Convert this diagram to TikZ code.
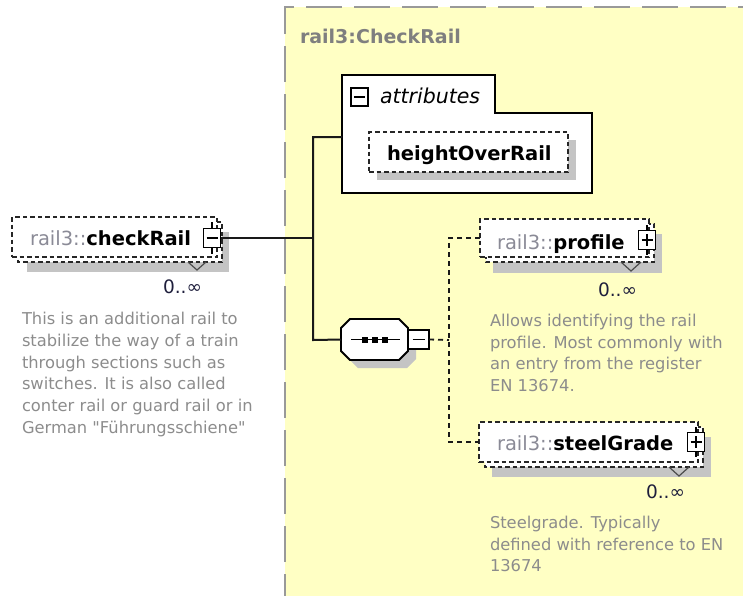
\documentclass[tikz,border=0pt]{standalone}
\usepackage{fontspec}
\setmainfont{DejaVu Sans}
\newfontfamily\descfont{DejaVu Sans}
\usetikzlibrary{calc}
\definecolor{yellowbg}{HTML}{FFFFC4}
\definecolor{framegray}{HTML}{999999}
\definecolor{shadowgray}{HTML}{C4C4C4}
\definecolor{descgray}{HTML}{8C8C8C}
\definecolor{prefixgray}{HTML}{8A8A96}
\definecolor{titlegray}{HTML}{7F7F7F}
\definecolor{occcolor}{HTML}{1E1E3C}
\begin{document}
\begin{tikzpicture}[x=1pt,y=-1pt,
  every node/.style={inner sep=0pt, outer sep=0pt},
  elemline/.style={draw=black!85, line width=1.6pt, dash pattern=on 4.5pt off 3pt},
  frontbox/.style={elemline, fill=white, anchor=north west},
  shadowfill/.style={fill=shadowgray},
  pmbox/.style={draw=black, line width=1.5pt, fill=white, minimum width=17pt, minimum height=19pt},
  pmline/.style={draw=black, line width=1.5pt},
  nametext/.style={font=\fontsize{19.5}{22}\selectfont, anchor=base west},
  desc/.style={font=\descfont\fontsize{16.3}{21.7}\selectfont, text=descgray, align=left, anchor=north west},
  occ/.style={font=\fontsize{18.5}{20}\selectfont, text=occcolor, anchor=base east},
  conn/.style={draw=black!90, line width=2pt},
  dconn/.style={draw=black!90, line width=1.8pt, dash pattern=on 5pt off 4pt},
  vmark/.style={draw=black!70, line width=1.2pt},
]
\useasboundingbox (0,0) rectangle (743,595);
% yellow complex type area
\fill[yellowbg] (285,7) rectangle (760,610);
\draw[framegray, line width=2pt, dash pattern=on 36pt off 12pt] (285,610) -- (285,7) -- (760,7);
\node[font=\bfseries\fontsize{19}{22}\selectfont, text=titlegray, anchor=base west] (title) at (300,43) {rail3:CheckRail};

% ---------- checkRail ----------
\fill[shadowfill] (27,232) rectangle (229,272);
\draw[elemline, fill=white] (18,222) rectangle (222,262);
\node[frontbox, minimum width=205pt, minimum height=40pt] (crbox) at (12,217) {};
\node[nametext] (crname) at (30,245) {\textcolor{prefixgray}{rail3::}\textbf{checkRail}};
\draw[pmline] (212,222) -- (212,254);
\node[pmbox] (crm) at (212,238) {};
\draw[pmline] ($(crm.center)+(-5.5,0)$) -- ($(crm.center)+(5.5,0)$);
\draw[vmark] (188,262) -- (197,270) -- (206,262);
\node[occ] (crocc) at (202,293) {0..∞};
\node[desc] (crdesc) at (22,312.5) {This is an additional rail to\\stabilize the way of a train\\through sections such as\\switches. It is also called\\conter rail or guard rail or in\\German "Führungsschiene"};

% ---------- attributes ----------
\draw[draw=black, line width=2pt, fill=white] (342,75) -- (495,75) -- (495,113) -- (592,113) -- (592,193) -- (342,193) -- cycle;
\coordinate (attrin) at (342,137);
\node[pmbox, minimum width=17pt, minimum height=18pt] (attrm) at (359.5,97) {};
\draw[pmline] ($(attrm.center)+(-5.5,0)$) -- ($(attrm.center)+(5.5,0)$);
\node[font=\itshape\fontsize{20.5}{22}\selectfont, anchor=base west] (attrlbl) at (380,103) {attributes};
\fill[shadowfill] (377,140) rectangle (576,180);
\node[frontbox, minimum width=199pt, minimum height=40pt] (hor) at (369,132) {};
\node[nametext, font=\bfseries\fontsize{19.5}{22}\selectfont] (horname) at (387,160) {heightOverRail};

% ---------- sequence compositor ----------
\node[minimum width=67pt, minimum height=41pt] (seq) at (374.5,339.5) {};
\fill[shadowfill] ($(seq.north west)+(17,8)$) -- ($(seq.north east)+(-1,8)$) -- ($(seq.north east)+(8,17)$) -- ($(seq.south east)+(8,-1)$) -- ($(seq.south east)+(-1,8)$) -- ($(seq.south west)+(17,8)$) -- ($(seq.south west)+(8,-1)$) -- ($(seq.north west)+(8,17)$) -- cycle;
\draw[draw=black, line width=1.8pt, fill=white] ($(seq.north west)+(9,0)$) -- ($(seq.north east)+(-9,0)$) -- ($(seq.north east)+(0,9)$) -- ($(seq.south east)+(0,-9)$) -- ($(seq.south east)+(-9,0)$) -- ($(seq.south west)+(9,0)$) -- ($(seq.south west)+(0,-9)$) -- ($(seq.north west)+(0,9)$) -- cycle;
\draw[line width=1.8pt] ($(seq.west)+(10,0)$) -- ($(seq.east)+(-8,0)$);
\foreach \dx in {-9.5,0.5,10.5} \fill ($(seq.center)+(\dx-3,-3)$) rectangle ($(seq.center)+(\dx+3,3)$);
\node[pmbox, minimum width=21pt, minimum height=19pt, anchor=west] (seqm) at (seq.east) {};
\draw[pmline] ($(seqm.center)+(-6,0)$) -- ($(seqm.center)+(6,0)$);

% ---------- profile ----------
\fill[shadowfill] (493,234) rectangle (662,273);
\draw[elemline, fill=white] (486,224) rectangle (654,262);
\node[frontbox, minimum width=169pt, minimum height=38pt] (profbox) at (480,219) {};
\node[nametext] (profname) at (497,249) {\textcolor{prefixgray}{rail3::}\textbf{profile}};
\draw[pmline] (647,225) -- (647,255);
\node[pmbox] (profp) at (647,240) {};
\draw[pmline] ($(profp.center)+(-5.5,0)$) -- ($(profp.center)+(5.5,0)$);
\draw[pmline] ($(profp.center)+(0,-6)$) -- ($(profp.center)+(0,6)$);
\draw[vmark] (621,262) -- (631,271) -- (641,262);
\node[occ] (profocc) at (637,296) {0..∞};
\node[desc] (profdesc) at (490,314) {Allows identifying the rail\\profile. Most commonly with\\an entry from the register\\EN 13674.};

% ---------- steelGrade ----------
\fill[shadowfill] (492,437) rectangle (711,477);
\draw[elemline, fill=white] (485,427) rectangle (703,467);
\node[frontbox, minimum width=219pt, minimum height=40pt] (steelbox) at (479,422) {};
\node[nametext] (steelname) at (497,450) {\textcolor{prefixgray}{rail3::}\textbf{steelGrade}};
\draw[pmline] (696,427) -- (696,457);
\node[pmbox] (steelp) at (696,442) {};
\draw[pmline] ($(steelp.center)+(-5.5,0)$) -- ($(steelp.center)+(5.5,0)$);
\draw[pmline] ($(steelp.center)+(0,-6)$) -- ($(steelp.center)+(0,6)$);
\draw[vmark] (669,467) -- (679,476) -- (689,467);
\node[occ] (steelocc) at (685,498) {0..∞};
\node[desc] (steeldesc) at (490,516) {Steelgrade. Typically\\defined with reference to EN\\13674};

% ---------- connectors ----------
\coordinate (trunktop) at (313,137);
\coordinate (trunkmid) at (313,238);
\coordinate (trunkbot) at (313,340);
\coordinate (fork) at (449,340);
\draw[conn] (crm.east) -- (trunkmid);
\draw[conn] (attrin) -- (trunktop) -- (trunkbot) -- (seq.west);
\draw[dconn] (seqm.east) -- (fork);
\draw[dconn] (profbox.west) -| (fork) |- (steelbox.west);
\end{tikzpicture}
\end{document}
